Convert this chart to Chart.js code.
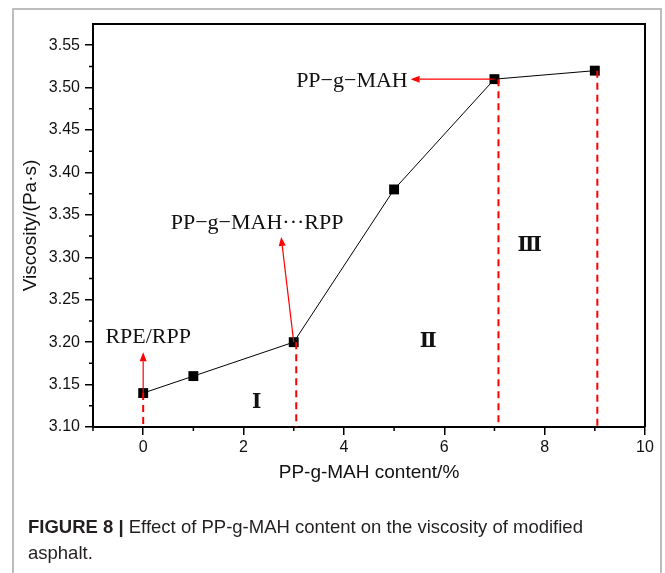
<!DOCTYPE html>
<html>
<head>
<meta charset="utf-8">
<script src="https://cdn.jsdelivr.net/npm/chart.js@4.4.0/dist/chart.umd.min.js"></script>
<style>
  html, body { margin: 0; padding: 0; background: #fff; }
  #wrap { position: relative; width: 665px; height: 573px; overflow: hidden; }
  #frame { position: absolute; left: 12px; top: 8px; width: 646px; height: 620px;
           border: 2px solid #bdbdbd; border-bottom: none; }
  #chart { position: absolute; left: 0; top: 0; }
  #caption { position: absolute; left: 28px; top: 514px; width: 620px;
             font: 18.5px "Liberation Sans", Arial, sans-serif;
             color: #231f20; line-height: 26px; }
  #caption b { font-weight: bold; }
</style>
</head>
<body>
<div id="wrap">
  <div id="frame"></div>
  <canvas id="chart" width="665" height="573"></canvas>
  <div id="caption"><b>FIGURE 8 |</b> Effect of PP-g-MAH content on the viscosity of modified<br>asphalt.</div>
</div>
<script>
// data
const contents = [0, 1, 3, 5, 7, 9];
const viscosity = [3.14, 3.16, 3.20, 3.38, 3.51, 3.52];

const xTicks = [0, 2, 4, 6, 8, 10];
const xMinorTicks = [-1, 1, 3, 5, 7, 9];
const yTicks = [3.10, 3.15, 3.20, 3.25, 3.30, 3.35, 3.40, 3.45, 3.50, 3.55];
const yMinorTicks = [3.125, 3.175, 3.225, 3.275, 3.325, 3.375, 3.425, 3.475, 3.525];

// red dashed dividers (x position, value they start from)
const dividerX = [0, 3.05, 7.08, 9.05];
const dividerTop = [3.14, 3.20, 3.51, 3.52];

// red arrows, in data units
const arrowFrom = [[0, 3.14], [3, 3.20], [7, 3.51]];
const arrowTo = [[0, 3.188], [2.75, 3.324], [5.33, 3.51]];

// annotation texts
const noteText = ['RPE/RPP', 'PP\u2212g\u2212MAH\u00b7\u00b7\u00b7RPP', 'PP\u2212g\u2212MAH'];
const noteX = [0.1, 2.27, 4.16];
const noteY = [3.206, 3.340, 3.508];

const zoneText = ['\u2160', '\u2161', '\u2162'];
const zoneX = [2.26, 5.68, 7.70];
const zoneY = [3.129, 3.201, 3.313];

function drawArrow(ctx, x1, y1, x2, y2) {
    const ang = Math.atan2(y2 - y1, x2 - x1);
    const head = 9, half = 3.5;
    const c = Math.cos(ang), s = Math.sin(ang);
    const bx = x2 - head * c, by = y2 - head * s;
    ctx.beginPath();
    ctx.moveTo(x1, y1);
    ctx.lineTo(bx, by);
    ctx.stroke();
    ctx.beginPath();
    ctx.moveTo(x2, y2);
    ctx.lineTo(bx + half * s, by - half * c);
    ctx.lineTo(bx - half * s, by + half * c);
    ctx.closePath();
    ctx.fill();
}

const decorations = {
    id: 'decorations',
    beforeDatasetsDraw(chart) {
        const ctx = chart.ctx;
        const a = chart.chartArea;
        const xs = chart.scales.x, ys = chart.scales.y;
        ctx.save();
        // top and right frame
        ctx.strokeStyle = '#000';
        ctx.lineWidth = 2;
        ctx.beginPath();
        ctx.moveTo(a.left, a.top);
        ctx.lineTo(a.right, a.top);
        ctx.lineTo(a.right, a.bottom);
        ctx.stroke();
        // minor ticks
        ctx.lineWidth = 1.5;
        ctx.beginPath();
        xMinorTicks.forEach(v => {
            const px = xs.getPixelForValue(v);
            ctx.moveTo(px, a.bottom);
            ctx.lineTo(px, a.bottom + 4);
        });
        yMinorTicks.forEach(v => {
            const py = ys.getPixelForValue(v);
            ctx.moveTo(a.left - 4, py);
            ctx.lineTo(a.left, py);
        });
        ctx.stroke();
        ctx.restore();
    },
    afterDatasetsDraw(chart) {
        const ctx = chart.ctx;
        const xs = chart.scales.x, ys = chart.scales.y;
        ctx.save();
        // dashed dividers
        ctx.strokeStyle = '#ff0000';
        ctx.lineWidth = 2;
        ctx.setLineDash([7, 5]);
        dividerX.forEach((v, i) => {
            const px = xs.getPixelForValue(v);
            ctx.beginPath();
            ctx.moveTo(px, ys.getPixelForValue(dividerTop[i]));
            ctx.lineTo(px, ys.getPixelForValue(3.10));
            ctx.stroke();
        });
        ctx.setLineDash([]);
        // arrows
        ctx.lineWidth = 1.2;
        ctx.fillStyle = '#ff0000';
        arrowFrom.forEach((p, i) => {
            const q = arrowTo[i];
            drawArrow(ctx, xs.getPixelForValue(p[0]), ys.getPixelForValue(p[1]),
                      xs.getPixelForValue(q[0]), ys.getPixelForValue(q[1]));
        });
        // notes
        ctx.fillStyle = '#111';
        ctx.textAlign = 'center';
        ctx.textBaseline = 'middle';
        ctx.font = '22px "Liberation Serif", serif';
        noteText.forEach((t, i) => {
            ctx.fillText(t, xs.getPixelForValue(noteX[i]), ys.getPixelForValue(noteY[i]));
        });
        ctx.font = 'bold 20px "DejaVu Serif", serif';
        zoneText.forEach((t, i) => {
            ctx.fillText(t, xs.getPixelForValue(zoneX[i]), ys.getPixelForValue(zoneY[i]));
        });
        ctx.restore();
    }
};

const tickFont = { family: '"Liberation Sans", Arial, sans-serif', size: 16 };
const titleFont = { family: '"Liberation Sans", Arial, sans-serif', size: 19 };

const ctx = document.getElementById('chart').getContext('2d');
const chart = new Chart(ctx, {
    type: 'scatter',
    data: {
        datasets: [{
            data: contents.map((c, i) => ({ x: c, y: viscosity[i] })),
            showLine: true,
            borderColor: '#000',
            borderWidth: 1,
            backgroundColor: '#000',
            pointStyle: 'rect',
            pointRadius: 7,
            pointBorderWidth: 0,
            pointBackgroundColor: '#000'
        }]
    },
    options: {
        responsive: false,
        animation: false,
        layout: { padding: { left: 19, top: 24, right: 20, bottom: 89 } },
        plugins: {
            legend: { display: false },
            tooltip: { enabled: false }
        },
        scales: {
            x: {
                type: 'linear',
                min: -1,
                max: 10,
                afterBuildTicks: s => { s.ticks = xTicks.map(v => ({ value: v })); },
                afterFit: s => { s.height = 57; },
                grid: { drawOnChartArea: false, drawTicks: true, tickLength: 8, color: '#000', lineWidth: 1.5 },
                border: { color: '#000', width: 2 },
                ticks: { font: tickFont, color: '#111', padding: 3, maxRotation: 0 },
                title: { display: true, text: 'PP-g-MAH content/%', font: titleFont, color: '#111', padding: 0 }
            },
            y: {
                min: 3.10,
                max: 3.575,
                afterBuildTicks: s => { s.ticks = yTicks.map(v => ({ value: v })); },
                afterFit: s => { s.width = 74; },
                grid: { drawOnChartArea: false, drawTicks: true, tickLength: 8, color: '#000', lineWidth: 1.5 },
                border: { color: '#000', width: 2 },
                ticks: { font: tickFont, color: '#111', padding: 5, callback: v => v.toFixed(2) },
                title: { display: true, text: 'Viscosity/(Pa\u00b7s)', font: titleFont, color: '#111', padding: 0 }
            }
        }
    },
    plugins: [decorations]
});
</script>
</body>
</html>
